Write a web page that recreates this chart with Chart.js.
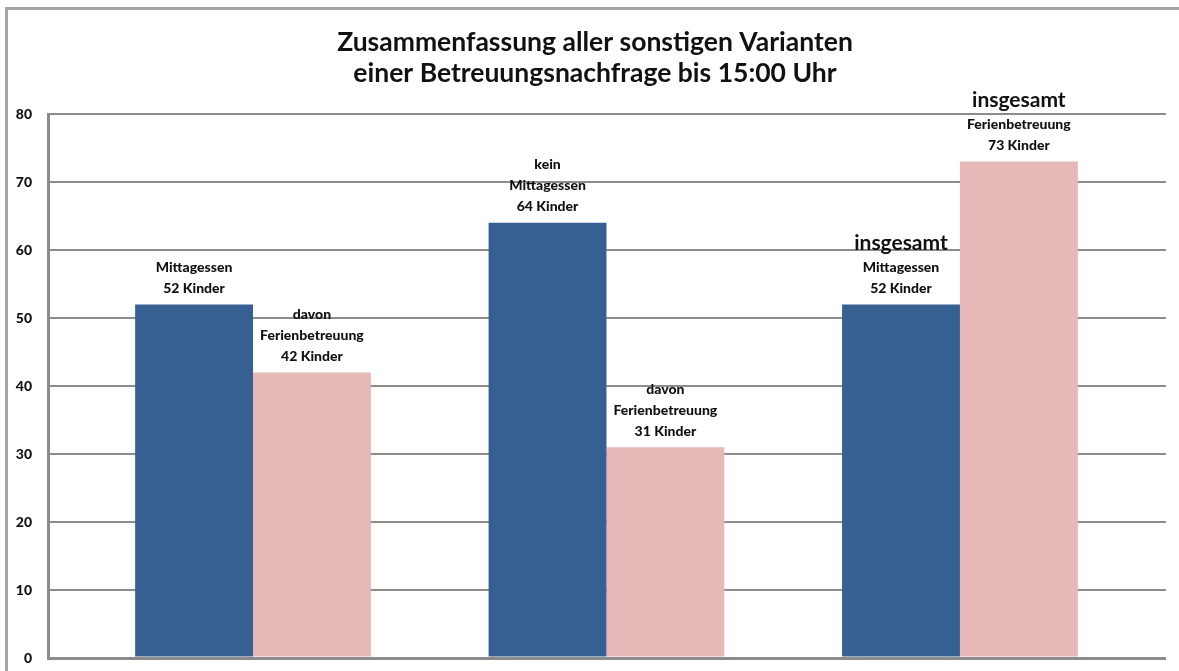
<!DOCTYPE html>
<html lang="de">
<head>
  <meta charset="UTF-8">
  <title>Betreuungsnachfrage bis 15:00 Uhr</title>
  <script src="https://cdn.jsdelivr.net/npm/chart.js"></script>
  <style>
    body {
      margin: 0;
      background: #fff;
      font-family: Lato, sans-serif;
    }

    #frame {
      position: absolute;
      left: 5px;
      top: 7px;
      width: 1300px;
      height: 800px;
      border-left: 3px solid #a6a6a6;
      border-top: 3px solid #a6a6a6;
    }

    #chart-container {
      position: relative;
      width: 1179px;
      height: 671px;
    }
  </style>
</head>
<body>
  <div id="frame"></div>
  <div id="chart-container">
    <canvas id="betreuungChart"></canvas>
  </div>

  <script>
// Werte aus der Grafik
const titelZeilen = ["Zusammenfassung aller sonstigen Varianten", "einer Betreuungsnachfrage bis 15:00 Uhr"];
const kategorien = ["Mittagessen", "kein Mittagessen", "insgesamt"];
const mittagessenWerte = [52, 64, 52];
const ferienWerte = [42, 31, 73];
const mittagessenTexte = [["Mittagessen"], ["kein", "Mittagessen"], ["insgesamt", "Mittagessen"]];
const ferienTexte = [["davon", "Ferienbetreuung"], ["davon", "Ferienbetreuung"], ["insgesamt", "Ferienbetreuung"]];
const yTicks = [0, 10, 20, 30, 40, 50, 60, 70, 80];

const blau = "#376092";
const rosa = "#e6b8b7";

// Titel (etwas rechts von der Mitte, wie im Original)
const titel = {
  id: "titel",
  afterDraw(chart) {
    const ctx = chart.ctx;
    ctx.save();
    ctx.textAlign = "center";
    ctx.textBaseline = "middle";
    ctx.fillStyle = "#111";
    ctx.font = "bold 26.5px Lato";
    titelZeilen.forEach((z, i) => ctx.fillText(z, 595, 42 + i * 31));
    ctx.restore();
  }
};

// Beschriftung über den Balken
const balkenTexte = {
  id: "balkenTexte",
  afterDatasetsDraw(chart) {
    const ctx = chart.ctx;
    ctx.save();
    ctx.textAlign = "center";
    ctx.textBaseline = "middle";
    ctx.fillStyle = "#111";
    chart.data.datasets.forEach((ds, di) => {
      const meta = chart.getDatasetMeta(di);
      meta.data.forEach((bar, i) => {
        const zeilen = ds.texte[i].concat([ds.data[i].y + " Kinder"]);
        let y = bar.y - 16;
        for (let k = zeilen.length - 1; k >= 0; k--) {
          const gross = zeilen[k] === "insgesamt";
          ctx.font = gross ? "bold 21px Lato" : "900 14px Lato";
          if (gross) y -= 3;
          ctx.fillText(zeilen[k], bar.x, y);
          y -= 21;
        }
      });
    });
    ctx.restore();
  }
};

const ctx = document.getElementById("betreuungChart").getContext("2d");
new Chart(ctx, {
  type: "bar",
  data: {
    datasets: [
      {
        label: "Mittagessen",
        data: mittagessenWerte.map((v, i) => ({ x: i, y: v })),
        texte: mittagessenTexte,
        backgroundColor: blau,
        borderWidth: 0
      },
      {
        label: "Ferienbetreuung",
        data: ferienWerte.map((v, i) => ({ x: i, y: v })),
        texte: ferienTexte,
        backgroundColor: rosa,
        borderWidth: 0
      }
    ]
  },
  options: {
    responsive: true,
    maintainAspectRatio: false,
    animation: false,
    categoryPercentage: 0.667,
    barPercentage: 1.0,
    layout: {
      padding: { left: 0, right: 13, top: 114, bottom: 13 }
    },
    plugins: {
      legend: { display: false },
      tooltip: { enabled: false },
      title: { display: false }
    },
    scales: {
      x: {
        type: "linear",
        display: false,
        offset: false,
        min: -0.58,
        max: 2.583,
        afterBuildTicks: scale => { scale.ticks = kategorien.map((k, i) => ({ value: i })); }
      },
      y: {
        min: 0,
        max: 80,
        afterFit: scale => {
          scale.width = 48;
          scale.paddingTop = 0;
          scale.paddingBottom = 0;
        },
        afterBuildTicks: scale => { scale.ticks = yTicks.map(v => ({ value: v })); },
        ticks: {
          padding: 16,
          color: "#111",
          font: { family: "Lato", size: 14, weight: "900" }
        },
        grid: {
          color: "#8c8c8c",
          lineWidth: c => (c.tick && c.tick.value === 0 ? 3 : 2),
          drawTicks: false
        },
        border: { display: true, color: "#8c8c8c", width: 3 }
      }
    }
  },
  plugins: [balkenTexte, titel]
});
  </script>
</body>
</html>
